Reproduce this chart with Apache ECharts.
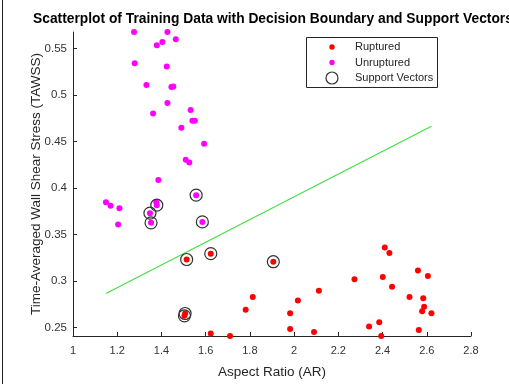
<!DOCTYPE html>
<html>
<head>
<meta charset="utf-8">
<script src="https://cdn.jsdelivr.net/npm/echarts@6/dist/echarts.min.js"></script>
<style>
html,body{margin:0;padding:0;background:#fff;}
#chart{width:509px;height:384px;}
</style>
</head>
<body>
<div id="chart"></div>
<script>
const rupturedAR = [1.514,1.623,1.504,1.507,1.906,1.813,1.781,1.623,1.710,2.017,2.112,1.982,1.982,2.090,2.273,2.410,2.431,2.401,2.443,2.560,2.605,2.522,2.584,2.588,2.579,2.621,2.385,2.339,2.564,2.394];
const rupturedTAWSS = [0.3231,0.3294,0.2625,0.2650,0.3207,0.2827,0.2691,0.2434,0.2408,0.2789,0.2894,0.2654,0.2482,0.2451,0.3019,0.3359,0.3301,0.3043,0.2939,0.3113,0.3053,0.2827,0.2813,0.2722,0.2674,0.2654,0.2556,0.2510,0.2472,0.2408];
const unrupturedAR = [1.276,1.427,1.465,1.404,1.379,1.279,1.424,1.332,1.445,1.454,1.427,1.532,1.362,1.540,1.551,1.490,1.593,1.510,1.526,1.386,1.557,1.149,1.170,1.210,1.377,1.379,1.348,1.353,1.204,1.585];
const unrupturedTAWSS = [0.5678,0.5678,0.5600,0.5570,0.5535,0.5343,0.5306,0.5107,0.5086,0.5093,0.4915,0.4839,0.4800,0.4724,0.4724,0.4648,0.4477,0.4303,0.4275,0.4087,0.3923,0.3847,0.3808,0.3781,0.3846,0.3815,0.3729,0.3625,0.3607,0.3635];
const svAR = [1.557,1.379,1.348,1.353,1.585,1.514,1.623,1.504,1.507,1.906];
const svTAWSS = [0.3923,0.3815,0.3729,0.3625,0.3635,0.3231,0.3294,0.2625,0.2650,0.3207];
const boundaryAR = [1.149,2.621];
const boundaryTAWSS = [0.2866,0.4665];
const yTicks = [0.25,0.30,0.35,0.40,0.45,0.50,0.55];
const yLimits = [0.2408,0.5678];
const xLimits = [1,2.8];
const legendNames = ['Ruptured','Unruptured','Support Vectors'];

const zip = (a,b) => a.map((v,i)=>[v,b[i]]);
const FONT = 'Liberation Sans, Arial, sans-serif';
const AX = '#262626';

const chart = echarts.init(document.getElementById('chart'), null, {renderer:'canvas'});
const option = {
  animation:false,
  backgroundColor:'#ffffff',
  title:{
    text:'Scatterplot of Training Data with Decision Boundary and Support Vectors',
    left:33, top:12, padding:0,
    textStyle:{fontFamily:FONT,fontSize:13.8,fontWeight:'bold',color:'#000'}
  },
  grid:{left:73,right:38,top:32,bottom:39,containLabel:false},
  xAxis:{
    type:'value', min:xLimits[0], max:xLimits[1], interval:0.2,
    name:'Aspect Ratio (AR)', nameLocation:'middle', nameGap:29, nameMoveOverlap:false,
    nameTextStyle:{fontFamily:FONT,fontSize:13.5,color:AX},
    axisLine:{show:true,onZero:false,lineStyle:{color:AX,width:1}},
    axisTick:{show:true,inside:true,length:4,lineStyle:{color:AX}},
    axisLabel:{fontFamily:FONT,fontSize:11,color:'#333',margin:9},
    splitLine:{show:false}
  },
  yAxis:{
    type:'value', min:yLimits[0], max:yLimits[1],
    name:'Time-Averaged Wall Shear Stress (TAWSS)', nameLocation:'middle', nameGap:30, nameMoveOverlap:false,
    nameTextStyle:{fontFamily:FONT,fontSize:13.5,color:AX},
    axisLine:{show:true,onZero:false,lineStyle:{color:AX,width:1}},
    axisTick:{show:true,inside:true,length:4,lineStyle:{color:AX},customValues:yTicks},
    axisLabel:{fontFamily:FONT,fontSize:11.5,color:'#333',margin:6,customValues:yTicks,
      formatter:v=>String(+v.toFixed(2))},
    splitLine:{show:false}
  },
  series:[
    {name:legendNames[0],type:'scatter',clip:false,symbol:'circle',symbolSize:6,
     itemStyle:{color:'#ff0000',opacity:1},data:zip(rupturedAR,rupturedTAWSS),z:2},
    {name:legendNames[1],type:'scatter',clip:false,symbol:'circle',symbolSize:6,
     itemStyle:{color:'#ff00ff',opacity:1},data:zip(unrupturedAR,unrupturedTAWSS),z:2},
    {name:legendNames[2],type:'scatter',clip:false,symbol:'circle',symbolSize:12,
     itemStyle:{color:'rgba(0,0,0,0)',borderColor:'#333',borderWidth:1.2,opacity:1},
     data:zip(svAR,svTAWSS),z:3},
    {name:'Decision Boundary',type:'line',data:zip(boundaryAR,boundaryTAWSS),
     showSymbol:false,symbol:'none',lineStyle:{color:'#3fe03f',width:1.1},z:1}
  ],
  graphic:[
    {type:'line',shape:{x1:2.5,y1:0,x2:2.5,y2:384},style:{stroke:'#222',lineWidth:1}},
    {type:'rect',shape:{x:306.5,y:37.5,width:131,height:50},style:{fill:'#fff',stroke:'#262626',lineWidth:1},z:10},
    {type:'circle',shape:{cx:332,cy:47,r:2.7},style:{fill:'#ff0000'},z:11},
    {type:'circle',shape:{cx:332,cy:62.5,r:2.7},style:{fill:'#ff00ff'},z:11},
    {type:'circle',shape:{cx:332,cy:78,r:6},style:{fill:'none',stroke:'#333',lineWidth:1.2},z:11},
    {type:'text',x:355,y:47,style:{text:legendNames[0],font:'11px '+FONT,fill:'#262626',verticalAlign:'middle'},z:11},
    {type:'text',x:355,y:62.5,style:{text:legendNames[1],font:'11px '+FONT,fill:'#262626',verticalAlign:'middle'},z:11},
    {type:'text',x:355,y:78,style:{text:legendNames[2],font:'11px '+FONT,fill:'#262626',verticalAlign:'middle'},z:11}
  ]
};
chart.setOption(option);
</script>
</body>
</html>
